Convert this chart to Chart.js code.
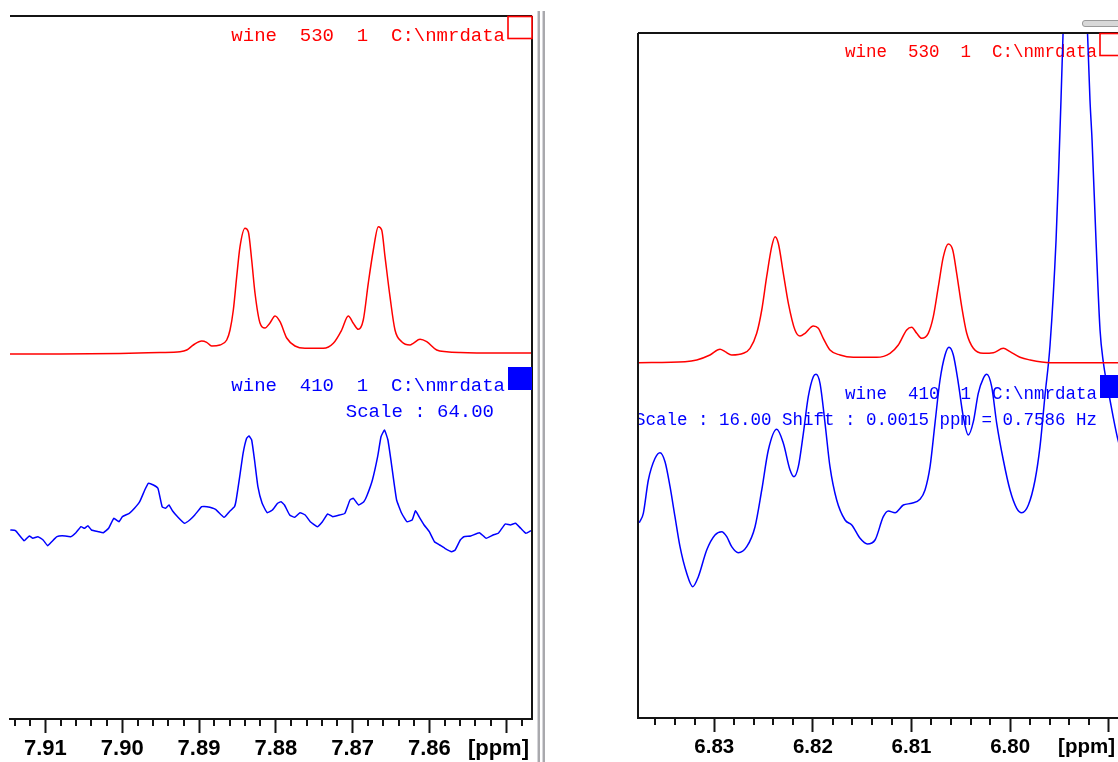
<!DOCTYPE html>
<html>
<head>
<meta charset="utf-8">
<title>wine 530 / wine 410 – 1H NMR expansions</title>
<script src="https://cdn.jsdelivr.net/npm/chart.js@4.4.1/dist/chart.umd.min.js"></script>
<style>
  html, body { margin: 0; padding: 0; width: 1118px; height: 762px; overflow: hidden; background: #fff; }
  canvas { position: absolute; top: 0; }
  #leftChart { left: 0; }
  #rightChart { left: 600px; }
  .split { position: absolute; top: 11px; height: 751px; width: 2px; background: #a9a9ad; border-left: 1px solid #d6d6da; }
  #grip { position: absolute; left: 1082px; top: 20px; width: 40px; height: 5px; background: #d8d8d8;
          border: 1px solid #9a9a9a; border-radius: 3px; }
</style>
</head>
<body>
<canvas id="leftChart" width="540" height="762"></canvas>
<div class="split" style="left:537px"></div>
<div class="split" style="left:542px"></div>
<canvas id="rightChart" width="530" height="762"></canvas>
<div id="grip"></div>
<script>
// ---- 7.85 – 7.91 ppm region ----------------------------------------------
// wine 530 (reference spectrum), chemical shift [ppm] and intensity
const leftPpm530 = [7.91461, 7.90810, 7.90029, 7.89508, 7.89247, 7.89160, 7.89074, 7.88965, 7.88900, 7.88835,
  7.88727, 7.88639, 7.88596, 7.88553, 7.88509, 7.88466, 7.88401, 7.88358, 7.88314, 7.88271,
  7.88206, 7.88141, 7.88076, 7.88010, 7.87945, 7.87858, 7.87750, 7.87620, 7.87382, 7.87251,
  7.87142, 7.87056, 7.86991, 7.86926, 7.86861, 7.86796, 7.86730, 7.86665, 7.86621, 7.86578,
  7.86513, 7.86448, 7.86361, 7.86253, 7.86210, 7.86122, 7.86035, 7.85905, 7.85775, 7.85602,
  7.85081, 7.84664];
const leftInt530 = [-1, -1, -0.5, 0.5, 1.3, 3, 8, 12, 10.7, 7,
  8, 13, 23, 43, 76.3, 106.3, 124.7, 121.3, 93, 60,
  30, 25, 30, 37, 31.3, 15, 7, 4.7, 4.7, 9.7,
  23, 37, 29.7, 23.7, 33, 69.7, 103, 126.3, 123, 96.3,
  56.3, 23, 11.3, 8, 9.7, 13.7, 11.3, 3, 1.3, 0.5,
  0, 0];

// wine 410 (scaled x64)
const leftPpm410 = [7.91457, 7.91389, 7.91277, 7.91210, 7.91164, 7.91098, 7.91030, 7.90971, 7.90918, 7.90850,
  7.90783, 7.90671, 7.90603, 7.90536, 7.90491, 7.90447, 7.90401, 7.90311, 7.90245, 7.90177,
  7.90109, 7.90042, 7.89997, 7.89908, 7.89840, 7.89772, 7.89706, 7.89660, 7.89594, 7.89535,
  7.89480, 7.89436, 7.89391, 7.89346, 7.89279, 7.89189, 7.89121, 7.89055, 7.88965, 7.88897,
  7.88785, 7.88673, 7.88605, 7.88538, 7.88516, 7.88470, 7.88426, 7.88380, 7.88349, 7.88314,
  7.88277, 7.88233, 7.88178, 7.88112, 7.88044, 7.87977, 7.87932, 7.87887, 7.87819, 7.87753,
  7.87685, 7.87617, 7.87551, 7.87461, 7.87393, 7.87325, 7.87258, 7.87168, 7.87101, 7.87034,
  7.86990, 7.86922, 7.86854, 7.86810, 7.86742, 7.86674, 7.86630, 7.86585, 7.86540, 7.86495,
  7.86427, 7.86361, 7.86293, 7.86225, 7.86181, 7.86135, 7.86069, 7.86001, 7.85934, 7.85866,
  7.85799, 7.85710, 7.85664, 7.85598, 7.85552, 7.85462, 7.85350, 7.85260, 7.85170, 7.85103,
  7.85013, 7.84946, 7.84879, 7.84811, 7.84743, 7.84677];
const leftInt410 = [0, -0.7, -10.7, -6, -8.3, -6.7, -10, -15.7, -11.7, -6.7,
  -5.7, -6.7, -2.7, 3.3, 1.7, 4.3, 0, -1.7, -2.7, 1.7,
  11.7, 8.3, 13.3, 16.7, 21.7, 28.3, 40, 46.7, 45, 41.7,
  23.3, 21.7, 25, 19.3, 13.3, 6.7, 10, 15, 23.3, 23.3,
  20.7, 12.7, 18.3, 23.3, 30, 53.3, 76.7, 91.7, 94, 90,
  70, 43.3, 26.7, 17.3, 20, 26.7, 28.3, 25, 15, 12.7,
  17.3, 15, 8.3, 3.3, 8.3, 16, 13.3, 15, 16.7, 30,
  31.7, 25, 28.3, 35, 50, 73.3, 93.3, 100, 90, 66.7,
  30, 16.7, 8.3, 10, 19.3, 13.3, 5, -1.7, -11.7, -15,
  -18.3, -21.7, -20, -10, -6.7, -6, -2.7, -8.3, -5, -3.3,
  6, 5, 6.7, 1.7, -3.3, -0.7];

// ---- 6.79 – 6.84 ppm region ----------------------------------------------
const rightPpm530 = [6.83771, 6.83297, 6.83178, 6.83044, 6.82942, 6.82891, 6.82824, 6.82706, 6.82638, 6.82570,
  6.82519, 6.82469, 6.82418, 6.82384, 6.82351, 6.82300, 6.82249, 6.82182, 6.82131, 6.82080,
  6.81996, 6.81945, 6.81895, 6.81827, 6.81725, 6.81590, 6.81353, 6.81218, 6.81134, 6.81049,
  6.80998, 6.80947, 6.80897, 6.80830, 6.80779, 6.80728, 6.80677, 6.80627, 6.80582, 6.80542,
  6.80491, 6.80440, 6.80373, 6.80272, 6.80170, 6.80069, 6.80001, 6.79900, 6.79798, 6.79595,
  6.78906, 6.78683];
const rightInt530 = [-0.7, 0.3, 2, 7, 12.7, 10.3, 7, 8.7, 13.7, 28.7,
  52, 85.3, 115.3, 125.3, 118.7, 88.7, 58.7, 32, 26, 28.7,
  36, 33.7, 23.7, 12, 7, 4.7, 4.7, 8.7, 17, 32,
  34.7, 28.7, 23.7, 28.7, 45.3, 75.3, 105.3, 118, 112, 88.7,
  55.3, 28.7, 13.7, 8.7, 9.3, 13.7, 10.3, 4.7, 2, -0.7,
  -0.7, -0.7];

// wine 410 (scaled x16, shifted 0.0015 ppm)
const rightPpm410 = [6.83761, 6.83720, 6.83669, 6.83601, 6.83551, 6.83500, 6.83449, 6.83399, 6.83348, 6.83280,
  6.83219, 6.83162, 6.83077, 6.82993, 6.82925, 6.82874, 6.82824, 6.82757, 6.82671, 6.82587,
  6.82519, 6.82452, 6.82367, 6.82300, 6.82232, 6.82192, 6.82148, 6.82097, 6.82047, 6.81996,
  6.81969, 6.81928, 6.81877, 6.81827, 6.81759, 6.81674, 6.81606, 6.81522, 6.81448, 6.81370,
  6.81286, 6.81235, 6.81167, 6.81083, 6.80998, 6.80914, 6.80863, 6.80812, 6.80762, 6.80711,
  6.80660, 6.80620, 6.80576, 6.80525, 6.80475, 6.80424, 6.80373, 6.80323, 6.80272, 6.80237,
  6.80187, 6.80136, 6.80069, 6.80001, 6.79933, 6.79882, 6.79815, 6.79747, 6.79697, 6.79646,
  6.79595, 6.79534, 6.79504, 6.79484, 6.79463, 6.79342, 6.79215, 6.79190, 6.79169, 6.79129,
  6.79088, 6.79055, 6.78987, 6.78913, 6.78784];
const rightInt410 = [7.3, 16.7, 50, 71.7, 77.3, 68.3, 43.3, 13.3, -16.7, -43.3,
  -56.7, -46.7, -20, -5, -1.7, -6.7, -16.7, -22.7, -16.7, 3.3,
  40, 80, 100.7, 86.7, 60, 53.3, 63.3, 96.7, 133.3, 153.3,
  155.7, 146.7, 106.7, 63.3, 30, 10, 5, -8.3, -14, -10,
  13.3, 19, 17.3, 25, 26.7, 30.7, 40, 63.3, 106.7, 150,
  175, 182.7, 175, 146.7, 113.3, 95, 108.3, 136.7, 151.7, 155.7,
  143.3, 106.7, 70, 40, 21.7, 17.3, 25, 50, 83.3, 135,
  185, 290, 370, 430, 497, 910, 497, 430, 390, 290,
  200, 168, 130, 93, 50];

// labelled chemical-shift ticks
const leftTickLabels = ['7.91', '7.90', '7.89', '7.88', '7.87', '7.86'];
const rightTickLabels = ['6.83', '6.82', '6.81', '6.80'];

// ---------------------------------------------------------------------------
const RED = '#ff0000';
const BLUE = '#0000ff';
const INK = '#141414';
const MONO = '"Courier New", "Liberation Mono", monospace';
const SANS = '"Liberation Sans", Arial, sans-serif';

const pts = (xs, ys) => xs.map((x, i) => ({ x, y: ys[i] }));
const isMajor = v => Math.abs(v * 100 - Math.round(v * 100)) < 1e-6;

function ppmAxis(min, max, labels, fontSize, axisHeight) {
  return {
    type: 'linear', position: 'bottom', reverse: true, min, max,
    afterBuildTicks(scale) {
      const step = 0.002, out = [];
      for (let i = Math.ceil(scale.min / step - 1e-6); i * step <= scale.max + 1e-9; i++) {
        out.push({ value: +(i * step).toFixed(3) });
      }
      scale.ticks = out;
    },
    afterFit(scale) { scale.height = axisHeight; },
    grid: {
      display: true, drawOnChartArea: false, drawTicks: true, tickLength: 14, tickWidth: 2,
      tickColor: ctx => (ctx.tick && isMajor(ctx.tick.value)) ? INK : 'rgba(0,0,0,0)'
    },
    border: { display: true, color: INK, width: 2 },
    ticks: {
      autoSkip: false, maxRotation: 0, minRotation: 0, padding: 3, color: '#000',
      font: { family: SANS, size: fontSize, weight: 'bold' },
      callback: v => (isMajor(v) && labels.includes(v.toFixed(2))) ? v.toFixed(2) : ''
    }
  };
}

// short ticks every 0.002 ppm, long ones (drawn by the axis) every 0.01 ppm
const minorTicks = {
  id: 'minorTicks',
  afterDraw(chart) {
    const s = chart.scales.x, c = chart.ctx;
    c.save();
    c.strokeStyle = INK; c.lineWidth = 2;
    s.ticks.forEach(t => {
      if (isMajor(t.value)) return;
      const x = Math.round(s.getPixelForValue(t.value));
      c.beginPath(); c.moveTo(x, s.top); c.lineTo(x, s.top + 7); c.stroke();
    });
    c.restore();
  }
};

// frame, trace captions, colour markers and the [ppm] unit label
function decor(cfg) {
  return {
    id: 'decor',
    beforeDatasetsDraw(chart) {
      const c = chart.ctx, ca = chart.chartArea;
      c.save();
      c.beginPath(); c.rect(ca.left, ca.top, ca.right - ca.left, ca.bottom - ca.top); c.clip();
      c.textAlign = 'right'; c.textBaseline = 'alphabetic';
      cfg.captions.forEach(t => {
        c.font = cfg.captionFont; c.fillStyle = t.color;
        c.fillText(t.text, ca.right - t.dx, t.y);
      });
      c.restore();
    },
    afterDatasetsDraw(chart) {
      const c = chart.ctx, ca = chart.chartArea;
      c.save();
      c.strokeStyle = INK; c.lineWidth = 2;
      c.beginPath();
      c.moveTo(ca.left, ca.top); c.lineTo(ca.right, ca.top);
      if (cfg.side === 'left') { c.moveTo(ca.left, ca.top); c.lineTo(ca.left, ca.bottom); }
      else { c.moveTo(ca.right, ca.top); c.lineTo(ca.right, ca.bottom); }
      c.stroke();
      // spectrum selector boxes
      c.strokeStyle = RED; c.lineWidth = 1.6;
      c.fillStyle = '#fff';
      c.fillRect(ca.right - 24, ca.top, 24, 22);
      c.strokeRect(ca.right - 24, ca.top + 0.5, 24, 22);
      c.fillStyle = BLUE;
      c.fillRect(ca.right - 24, cfg.blueBoxY, 24, 23);
      // unit label
      c.fillStyle = '#000';
      c.font = 'bold ' + cfg.unitSize + 'px ' + SANS;
      c.textAlign = 'right'; c.textBaseline = 'middle';
      c.fillText('[ppm]', ca.right - cfg.unitDx, ca.bottom + 14 + 3 + cfg.unitSize * 0.6);
      c.restore();
    }
  };
}

function spectrum(id, opts) {
  return new Chart(document.getElementById(id), {
    type: 'line',
    data: {
      datasets: [
        { label: 'wine 530', data: opts.red, yAxisID: 'yRed', borderColor: RED, borderWidth: 1.5,
          pointRadius: 0, cubicInterpolationMode: 'monotone', fill: false },
        { label: 'wine 410', data: opts.blue, yAxisID: 'yBlue', borderColor: BLUE, borderWidth: 1.5,
          pointRadius: 0, fill: false,
          cubicInterpolationMode: opts.blueSmooth ? 'monotone' : 'default', tension: 0.12 }
      ]
    },
    options: {
      responsive: false, animation: false, events: [],
      devicePixelRatio: 1,
      layout: { padding: opts.padding },
      plugins: { legend: { display: false }, tooltip: { enabled: false } },
      scales: {
        x: opts.x,
        yRed: { type: 'linear', display: false, min: opts.redRange[0], max: opts.redRange[1] },
        yBlue: { type: 'linear', display: false, min: opts.blueRange[0], max: opts.blueRange[1] }
      }
    },
    plugins: [minorTicks, decor(opts.decor)]
  });
}

spectrum('leftChart', {
  red: pts(leftPpm530, leftInt530),
  blue: pts(leftPpm410, leftInt410),
  blueSmooth: false,
  padding: { left: 10, right: 8, top: 16, bottom: 0 },
  x: ppmAxis(7.84664, 7.91461, leftTickLabels, 22, 43),
  redRange: [-366, 337],
  blueRange: [-189, 514],
  decor: {
    side: 'right', captionFont: '19px ' + MONO, unitSize: 22, unitDx: 3, blueBoxY: 367,
    captions: [
      { text: 'wine  530  1  C:\\nmrdata', color: RED, dx: 27, y: 41 },
      { text: 'wine  410  1  C:\\nmrdata', color: BLUE, dx: 27, y: 391 },
      { text: 'Scale : 64.00', color: BLUE, dx: 38, y: 417 }
    ]
  }
});

spectrum('rightChart', {
  red: pts(rightPpm530, rightInt530),
  blue: pts(rightPpm410, rightInt410),
  blueSmooth: true,
  padding: { left: 38, right: 6, top: 33, bottom: 0 },
  x: ppmAxis(6.78845, 6.83774, rightTickLabels, 20.5, 44),
  redRange: [-356, 329],
  blueRange: [-188, 497],
  decor: {
    side: 'left', captionFont: '17.5px ' + MONO, unitSize: 20.5, unitDx: 9, blueBoxY: 375,
    captions: [
      { text: 'wine  530  1  C:\\nmrdata', color: RED, dx: 27, y: 57 },
      { text: 'wine  410  1  C:\\nmrdata', color: BLUE, dx: 27, y: 399 },
      { text: 'Scale : 16.00 Shift : 0.0015 ppm = 0.7586 Hz', color: BLUE, dx: 27, y: 425 }
    ]
  }
});
</script>
</body>
</html>
